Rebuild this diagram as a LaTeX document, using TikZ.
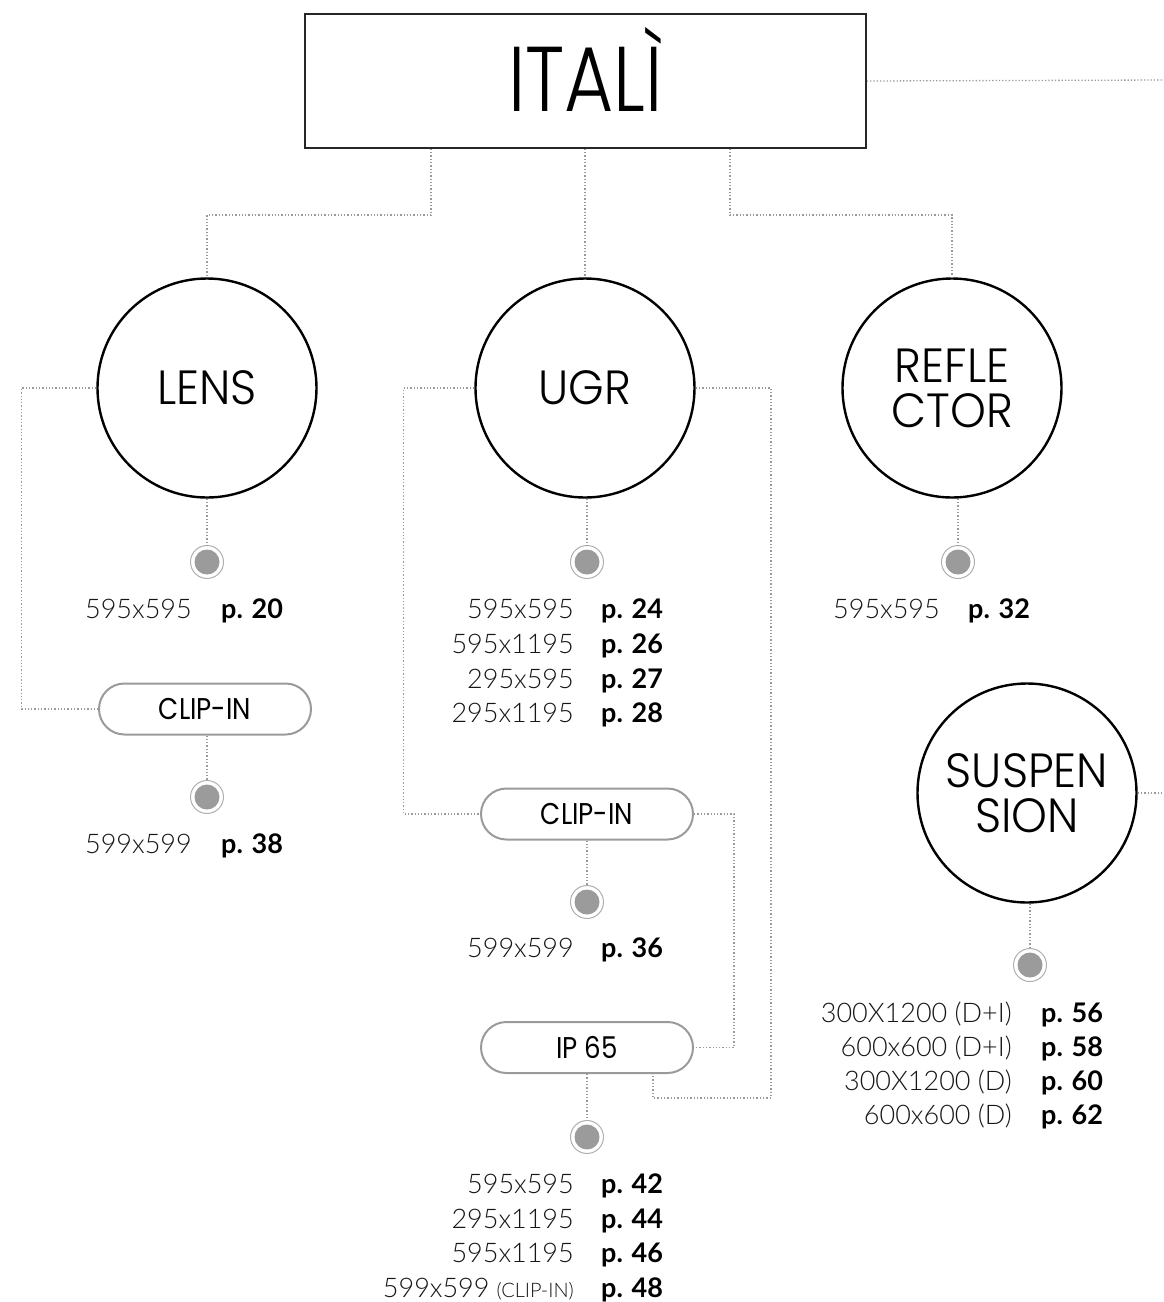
\documentclass[tikz,border=0pt]{standalone}
\usepackage{fontspec}
\usetikzlibrary{calc}
\newfontfamily\headfont{Poppins Light}
\newfontfamily\titlefont{Poppins Light}[FakeStretch=0.82]
\newfontfamily\catfont{Poppins Light}[FakeStretch=0.95]
\newfontfamily\pillfont{Poppins}[FakeStretch=0.87]
\newfontfamily\numfont{Lato Light}
\newfontfamily\numbold{Lato Bold}
\definecolor{conncol}{HTML}{9A9A9A}
\definecolor{dotcol}{HTML}{9B9B9B}
\definecolor{sizecol}{HTML}{161616}
\tikzset{
  conn/.style={draw=conncol, line width=1.3pt, dash pattern=on 1.3pt off 2pt},
  titlebox/.style={draw=black!85, line width=1.6pt, minimum width=561pt, minimum height=134pt, inner sep=0pt, text height=64pt, text depth=4pt, font=\titlefont\fontsize{92}{92}\selectfont},
  cat/.style={circle, draw=black, line width=2.4pt, minimum size=219pt, inner sep=0pt, align=center, font=\catfont\fontsize{48}{45}\selectfont},
  pill/.style={draw=conncol, line width=2pt, rounded corners=25.5pt, minimum width=212pt, minimum height=51pt, inner sep=0pt, font=\pillfont\fontsize{30}{30}\selectfont},
  dotnode/.style={circle, draw=dotcol!80, line width=1pt, minimum size=33pt, inner sep=0pt,
     path picture={\fill[dotcol] (path picture bounding box.center) circle (12.5pt);}},
  sz/.style={anchor=base east, inner sep=0pt, text=sizecol, font=\numfont\fontsize{27}{27}\selectfont},
  pg/.style={anchor=base west, inner sep=0pt, text=black, font=\numbold\fontsize{27}{27}\selectfont},
}
\begin{document}
\begin{tikzpicture}[x=1pt,y=-1pt]
\useasboundingbox (0,0) rectangle (1164,1302);
% title
\node[titlebox] (title) at (585.5,81) {ITALÌ};
\coordinate (rightend) at (1164,80);
\draw[conn] (title.east) -- (rightend);
% categories
\node[cat] (lens) at (207,388) {LENS};
\node[cat] (ugr) at (585,388) {UGR};
\node[cat] (refl) at (952,388) {REFLE\\CTOR};
\node[cat] (susp) at (1027,793) {SUSPEN\\SION};
\coordinate (suspend) at (1164,793);
\draw[conn] (susp.east) -- (suspend);
% title to categories
\draw[conn] (title.south -| 431,0) |- (lens.north |- 0,215) -- (lens.north);
\draw[conn] (title.south -| ugr.north) -- (ugr.north);
\draw[conn] (title.south -| 730,0) |- (refl.north |- 0,215) -- (refl.north);
% pills
\node[pill] (clipA) at (205,709) {CLIP-IN};
\node[pill] (clipB) at (587,814) {CLIP-IN};
\node[pill] (ip) at (587,1047.5) {IP 65};
% pill connections
\draw[conn] (lens.west) -- ++(-75,0) |- (clipA.west);
\draw[conn] (ugr.west) -- ++(-71,0) |- (clipB.west);
\draw[conn] (ugr.east) -| (771,1098) -| (ip.south -| 653,0);
\draw[conn] (clipB.east) -- ++(40,0) |- (ip.east);
% dots
\node[dotnode] (dLens) at (207,562) {};
\node[dotnode] (dClipA) at (207,797) {};
\node[dotnode] (dUgr) at (587,562) {};
\node[dotnode] (dClipB) at (587,902) {};
\node[dotnode] (dIp) at (587,1137) {};
\node[dotnode] (dRefl) at (958,562) {};
\node[dotnode] (dSusp) at (1030,965) {};
\draw[conn] (lens.south) -- (dLens);
\draw[conn] (clipA.south -| dClipA) -- (dClipA);
\draw[conn] (ugr.south -| dUgr) -- (dUgr);
\draw[conn] (clipB.south) -- (dClipB);
\draw[conn] (ip.south) -- (dIp);
\draw[conn] (refl.south -| dRefl) -- (dRefl);
\draw[conn] (susp.south -| dSusp) -- (dSusp);
% LENS texts
\node[sz] (sL1) at (192,618) {595x595};
\node[pg] (pL1) at (221,618) {p. 20};
\node[sz] (sL2) at (192,853) {599x599};
\node[pg] (pL2) at (221,853) {p. 38};
% UGR texts
\node[sz] (sU1) at (574,618) {595x595};
\node[pg] (pU1) at (601,618) {p. 24};
\node[sz] (sU2) at (574,653) {595x1195};
\node[pg] (pU2) at (601,653) {p. 26};
\node[sz] (sU3) at (574,688) {295x595};
\node[pg] (pU3) at (601,688) {p. 27};
\node[sz] (sU4) at (574,722) {295x1195};
\node[pg] (pU4) at (601,722) {p. 28};
\node[sz] (sC1) at (574,957) {599x599};
\node[pg] (pC1) at (601,957) {p. 36};
% IP65 texts
\node[sz] (sI1) at (574,1193) {595x595};
\node[pg] (pI1) at (601,1193) {p. 42};
\node[sz] (sI2) at (574,1228) {295x1195};
\node[pg] (pI2) at (601,1228) {p. 44};
\node[sz] (sI3) at (574,1262) {595x1195};
\node[pg] (pI3) at (601,1262) {p. 46};
\node[sz] (sI4) at (574,1297) {599x599\hspace{7pt}{\fontsize{20}{20}\selectfont(CLIP-IN)}};
\node[pg] (pI4) at (601,1297) {p. 48};
% reflector
\node[sz] (sR1) at (940,618) {595x595};
\node[pg] (pR1) at (968,618) {p. 32};
% suspension
\node[sz] (sS1) at (1012,1022) {300X1200 (D+I)};
\node[pg] (pS1) at (1041,1022) {p. 56};
\node[sz] (sS2) at (1012,1056) {600x600 (D+I)};
\node[pg] (pS2) at (1041,1056) {p. 58};
\node[sz] (sS3) at (1012,1090) {300X1200 (D)};
\node[pg] (pS3) at (1041,1090) {p. 60};
\node[sz] (sS4) at (1012,1124) {600x600 (D)};
\node[pg] (pS4) at (1041,1124) {p. 62};
\end{tikzpicture}
\end{document}
